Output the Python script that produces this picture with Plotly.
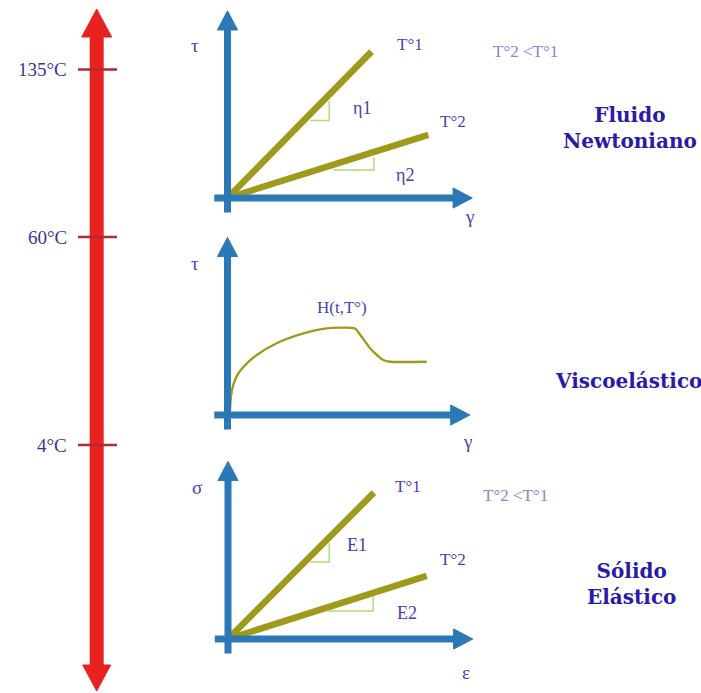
import plotly.graph_objects as go

# ---------------- data ----------------
temperature_labels = ["135°C", "60°C", "4°C"]

# Newtonian fluid: shear stress (tau) against shear rate (gamma)
newton_labels = ["T°1", "T°2"]
newton_rate = [[0.0, 6.0], [0.0, 8.37]]
newton_stress = [[0.0, 6.1], [0.0, 2.63]]
newton_slope_names = ["η1", "η2"]

# Viscoelastic response
visco_strain = [0.1, 0.14, 0.24, 0.42, 0.66, 1.22, 2.05, 3.16, 4.13, 5.31, 5.45, 5.59, 5.94, 6.25, 6.49, 6.77, 8.3]
visco_stress = [0.14, 0.75, 1.25, 1.68, 2.0, 2.5, 2.99, 3.40, 3.61, 3.61, 3.45, 3.26, 2.78, 2.48, 2.29, 2.22, 2.22]
visco_label = "H(t,T°)"

# Elastic solid: stress (sigma) against strain (epsilon)
solid_labels = ["T°1", "T°2"]
solid_strain = [[0.0, 6.08], [0.0, 8.28]]
solid_stress = [[0.0, 6.1], [0.0, 2.63]]
solid_slope_names = ["E1", "E2"]

material_names = ["Fluido<br>Newtoniano", "Viscoelástico", "Sólido<br>Elástico"]
order_note = "T°2 <T°1"

# ---------------- styling / layout ----------------
W, H = 701, 693
PX = 24.0  # pixels per data unit inside each small panel
RED = "#e8231f"
TICK_RED = "#b02a36"
BLUE = "#2a78b6"
OLIVE = "#a09a1c"
TRI_GREEN = "#b0dc70"
TXT = "#4b3db5"
TXT_DARK = "#3a34a0"
TITLE = "#2a1aa8"
FAINT = "#8c84d0"
SERIF = "Liberation Serif"

# panel origins in page pixels
panels = [
    dict(ox=227.5, oy=198.0, xt=10.2, yt=7.8),
    dict(ox=227.5, oy=415.0, xt=10.1, yt=7.4),
    dict(ox=228.0, oy=639.0, xt=10.2, yt=7.4),
]
XR = (-1.0, 11.0)
YR = (-1.0, 8.0)

fig = go.Figure()

layout_axes = dict(
    xaxis=dict(range=[0, W], domain=[0, 1], visible=False, fixedrange=True),
    yaxis=dict(range=[H, 0], domain=[0, 1], visible=False, fixedrange=True),
)
for i, p in enumerate(panels, start=2):
    x0 = (p["ox"] + XR[0] * PX) / W
    x1 = (p["ox"] + XR[1] * PX) / W
    ybot = (H - (p["oy"] - YR[0] * PX)) / H
    ytop = (H - (p["oy"] - YR[1] * PX)) / H
    layout_axes[f"xaxis{i}"] = dict(range=list(XR), domain=[x0, x1], visible=False,
                                    anchor=f"y{i}", fixedrange=True)
    layout_axes[f"yaxis{i}"] = dict(range=list(YR), domain=[max(0, ybot), min(1, ytop)],
                                    visible=False, anchor=f"x{i}", fixedrange=True)

shapes = []
annotations = []

# ---- temperature arrow (page pixels) ----
ax_x = 96.7
shapes.append(dict(type="line", xref="x", yref="y", x0=ax_x, x1=ax_x, y0=34, y1=668,
                   line=dict(color=RED, width=14)))
shapes.append(dict(type="path", xref="x", yref="y",
                   path=f"M {ax_x-15},37 L {ax_x},9 L {ax_x+15},37 Z",
                   fillcolor=RED, line=dict(color=RED, width=1)))
shapes.append(dict(type="path", xref="x", yref="y",
                   path=f"M {ax_x-14},665 L {ax_x},691 L {ax_x+14},665 Z",
                   fillcolor=RED, line=dict(color=RED, width=1)))
temp_y = [69.5, 237.0, 445.0]
for lab, ty in zip(temperature_labels, temp_y):
    shapes.append(dict(type="line", xref="x", yref="y", x0=78, x1=117, y0=ty, y1=ty,
                       line=dict(color=TICK_RED, width=2.5)))
    annotations.append(dict(xref="x", yref="y", x=69, y=ty, text=lab, showarrow=False,
                            xanchor="right", yanchor="middle",
                            font=dict(family=SERIF, size=19, color=TXT_DARK)))

# ---- panel axes (blue arrows) ----
def axis_arrows(i, xt, yt):
    xr, yr = f"x{i}", f"y{i}"
    hl, hw = 0.8, 0.42
    return [
        dict(type="line", xref=xr, yref=yr, x0=-0.55, x1=xt - hl + 0.05, y0=0, y1=0,
             line=dict(color=BLUE, width=7)),
        dict(type="path", xref=xr, yref=yr,
             path=f"M {xt-hl},{-hw} L {xt},0 L {xt-hl},{hw} Z",
             fillcolor=BLUE, line=dict(color=BLUE, width=1)),
        dict(type="line", xref=xr, yref=yr, x0=0, x1=0, y0=-0.6, y1=yt - hl + 0.05,
             line=dict(color=BLUE, width=7)),
        dict(type="path", xref=xr, yref=yr,
             path=f"M {-hw},{yt-hl} L 0,{yt} L {hw},{yt-hl} Z",
             fillcolor=BLUE, line=dict(color=BLUE, width=1)),
    ]

for i, p in enumerate(panels, start=2):
    shapes += axis_arrows(i, p["xt"], p["yt"])

# slope triangles hanging under a line: (start, run, vertical offset)
def slope_triangle(i, xs, ys, x0, run, off):
    slope = (ys[1] - ys[0]) / (xs[1] - xs[0])
    yb = ys[0] + slope * (x0 - xs[0]) + off
    yt = yb + slope * run
    return dict(type="path", xref=f"x{i}", yref=f"y{i}",
                path=f"M {x0},{yb} L {x0+run},{yb} L {x0+run},{yt}",
                line=dict(color=TRI_GREEN, width=1.5))

def straight_panel(i, xs_list, ys_list, labels, slope_names, tri_cfg, lab_shift, slope_pos):
    for xs, ys, lab, sn, tc, sh, sp in zip(xs_list, ys_list, labels, slope_names,
                                           tri_cfg, lab_shift, slope_pos):
        shapes.append(slope_triangle(i, xs, ys, *tc))
        fig.add_trace(go.Scatter(x=xs, y=ys, mode="lines", xaxis=f"x{i}", yaxis=f"y{i}",
                                 line=dict(color=OLIVE, width=6.5), hoverinfo="skip",
                                 showlegend=False))
        annotations.append(dict(xref=f"x{i}", yref=f"y{i}", x=xs[1], y=ys[1], text=lab,
                                showarrow=False, xshift=sh[0], yshift=sh[1],
                                font=dict(family=SERIF, size=17, color=TXT)))
        annotations.append(dict(xref=f"x{i}", yref=f"y{i}", x=sp[0], y=sp[1], text=sn,
                                showarrow=False,
                                font=dict(family=SERIF, size=18, color=TXT)))

straight_panel(2, newton_rate, newton_stress, newton_labels, newton_slope_names,
               tri_cfg=[(3.44, 0.8, -0.27), (4.41, 1.69, -0.22)],
               lab_shift=[(38, 7), (25, 13)],
               slope_pos=[(5.59, 3.74), (7.4, 0.96)])

straight_panel(4, solid_strain, solid_stress, solid_labels, solid_slope_names,
               tri_cfg=[(3.42, 0.8, -0.22), (4.11, 1.94, -0.14)],
               lab_shift=[(34, 6), (26, 16)],
               slope_pos=[(5.36, 3.92), (7.45, 1.1)])

# viscoelastic curve
fig.add_trace(go.Scatter(x=visco_strain, y=visco_stress, mode="lines", xaxis="x3", yaxis="y3",
                         line=dict(color=OLIVE, width=2.4, shape="spline", smoothing=0.6),
                         hoverinfo="skip", showlegend=False))
annotations.append(dict(xref="x3", yref="y3", x=4.76, y=max(visco_stress), text=visco_label,
                        showarrow=False, yshift=21,
                        font=dict(family=SERIF, size=17, color=TXT)))

# axis symbols (page pixels)
for sym, x, y in [("τ", 195, 45), ("γ", 469, 216), ("τ", 195, 263), ("γ", 467, 441),
                  ("σ", 197, 487), ("ε", 466, 672)]:
    annotations.append(dict(xref="x", yref="y", x=x, y=y, text=sym, showarrow=False,
                            font=dict(family=SERIF, size=19, color=TXT)))

# order notes
for x, y in [(525, 51), (515, 495)]:
    annotations.append(dict(xref="x", yref="y", x=x, y=y, text=order_note, showarrow=False,
                            font=dict(family=SERIF, size=17, color=FAINT)))

# material names
for name, x, y in zip(material_names, [630, 628, 631], [128, 381, 584]):
    annotations.append(dict(xref="x", yref="y", x=x, y=y, text=f"<b>{name}</b>",
                            showarrow=False, align="center",
                            font=dict(family="DejaVu Serif", size=20, color=TITLE)))

fig.update_layout(
    width=W, height=H,
    margin=dict(l=0, r=0, t=0, b=0),
    paper_bgcolor="white", plot_bgcolor="white",
    showlegend=False,
    shapes=shapes,
    annotations=annotations,
    **layout_axes,
)

fig.write_html("out.html", config=dict(displayModeBar=False))
